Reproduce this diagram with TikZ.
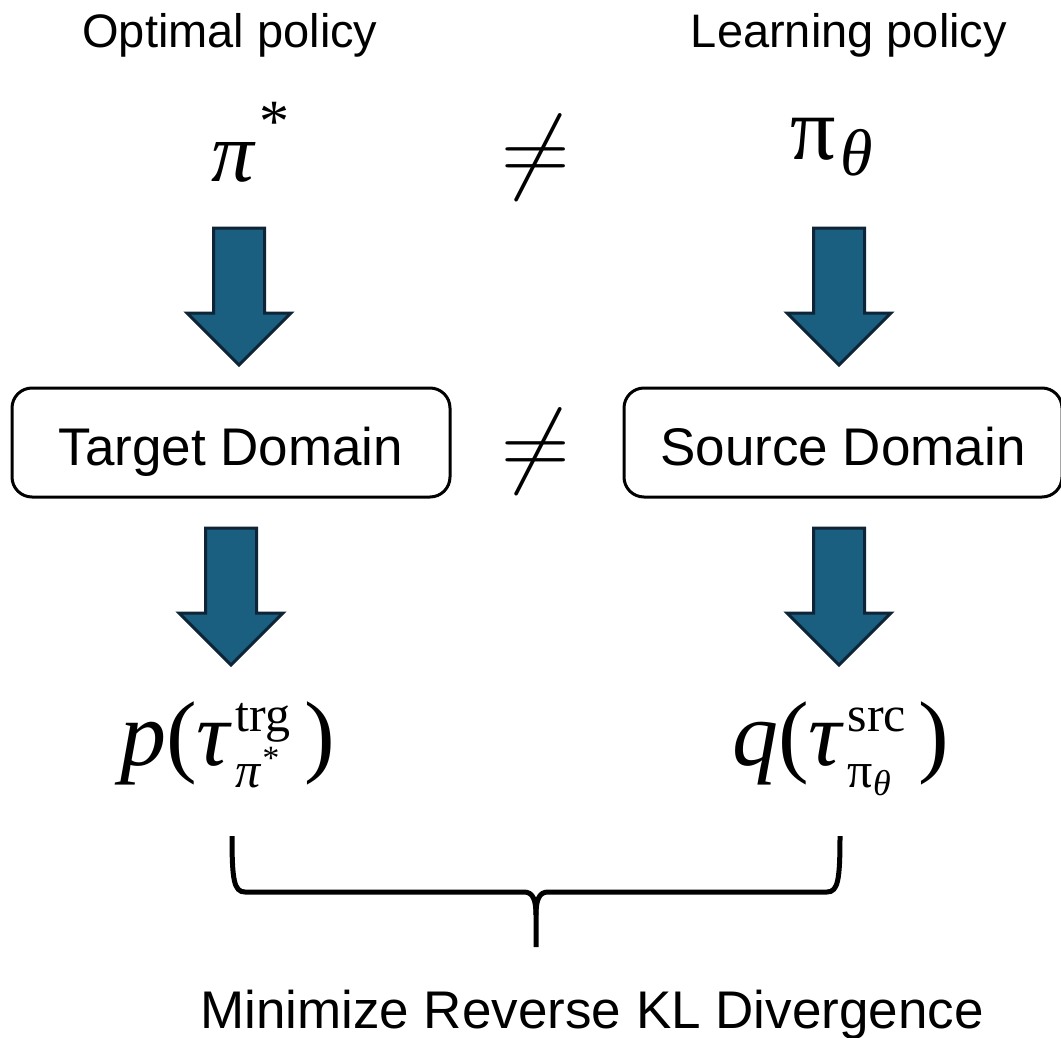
\RequirePackage{fix-cm}
\documentclass[tikz,border=0pt]{standalone}
\usepackage{fontspec}
\setmainfont{Liberation Sans}
\newfontfamily\tms{Liberation Serif}
\definecolor{arrfill}{HTML}{1A5E80}
\definecolor{arrdraw}{HTML}{0D2536}
\newcommand\sz[1]{\fontsize{#1}{#1}\selectfont}
\newcommand\mi[1]{\hbox{\tms\itshape #1}}
\newcommand\mr[1]{\hbox{\tms #1}}
\tikzset{
  lbl/.style={font=\sz{47}, inner sep=0pt, anchor=base},
  dombox/.style={draw=black, line width=3pt, rounded corners=20pt, minimum width=438pt,
    minimum height=109pt, font=\sz{53}, text height=45pt, text depth=0pt, inner sep=0pt},
  mth/.style={inner sep=0pt, anchor=base west},
  neqsym/.style={inner sep=0pt, anchor=base, font=\sz{95}},
  blk/.style={fill=arrfill, draw=arrdraw, line width=3pt, line join=miter},
  downarr/.pic={\draw[blk] (-25.5,0) -- (25.5,0) -- (25.5,85) -- (52,85) -- (0,137)
      -- (-52,85) -- (-25.5,85) -- cycle;},
  brace/.style={draw=black, line width=5pt, line cap=butt}
}
\begin{document}
\begin{tikzpicture}[x=1pt,y=-1pt]
\useasboundingbox (0,0) rectangle (1061,1038);
% top labels
\node[lbl] (opt) at (230,48) {Optimal policy};
\node[lbl] (lrn) at (849,48) {Learning policy};
% policies
\node[mth] (pistar) at (211,182) {\sz{85}$\mi{π}^{\hbox{\hspace{6pt}\raisebox{10pt}{\sz{60}\tms *}}}$};
\node[neqsym] (neq1) at (536,182) {$\neq$};
\node[mth] (pitheta) at (790,160) {\sz{90}$\mr{π}_{\hbox{\hspace{5pt}\sz{66}\tms\itshape θ}}$};
% arrows
\pic at (239,228) {downarr};
\pic at (839,228) {downarr};
% domains
\node[dombox] (trg) at (231,442.5) {Target Domain};
\node[dombox] (src) at (843,442.5) {Source Domain};
\node[neqsym] (neq2) at (536,475) {$\neq$};
% arrows
\pic at (231,528) {downarr};
\pic at (839,528) {downarr};
% trajectories
\node[mth] (ptr) at (120,765) {\sz{92}$\mi{p}\mr{(}\mi{τ\hspace{6pt}}^{\hbox{\sz{50}\tms trg}}_{\hbox{\sz{50}\tms\itshape π$^{\hbox{\sz{34}\tms *}}$}}\hspace{14pt}\mr{)}$};
\node[mth] (qsr) at (732,765) {\sz{92}$\mi{q}\mr{(}\mi{τ\hspace{6pt}}^{\hbox{\sz{50}\tms src}}_{\hbox{\sz{50}\tms π$_{\hbox{\sz{36}\tms\itshape θ}}$}}\hspace{12pt}\mr{)}$};
% brace
\coordinate (bl) at (232,836);
\coordinate (br) at (840,836);
\coordinate (bc) at (536,947);
\draw[brace] (bl) .. controls (232,880) and (234,892) .. (245,892) -- (524,892)
  .. controls (533,892) and (536,900) .. (536,915) -- (bc);
\draw[brace] (536,915) .. controls (536,900) and (539,892) .. (548,892) -- (827,892)
  .. controls (838,892) and (840,880) .. (br);
\node[lbl, font=\sz{53}] (kl) at (592,1028) {Minimize Reverse KL Divergence};
\end{tikzpicture}
\end{document}
